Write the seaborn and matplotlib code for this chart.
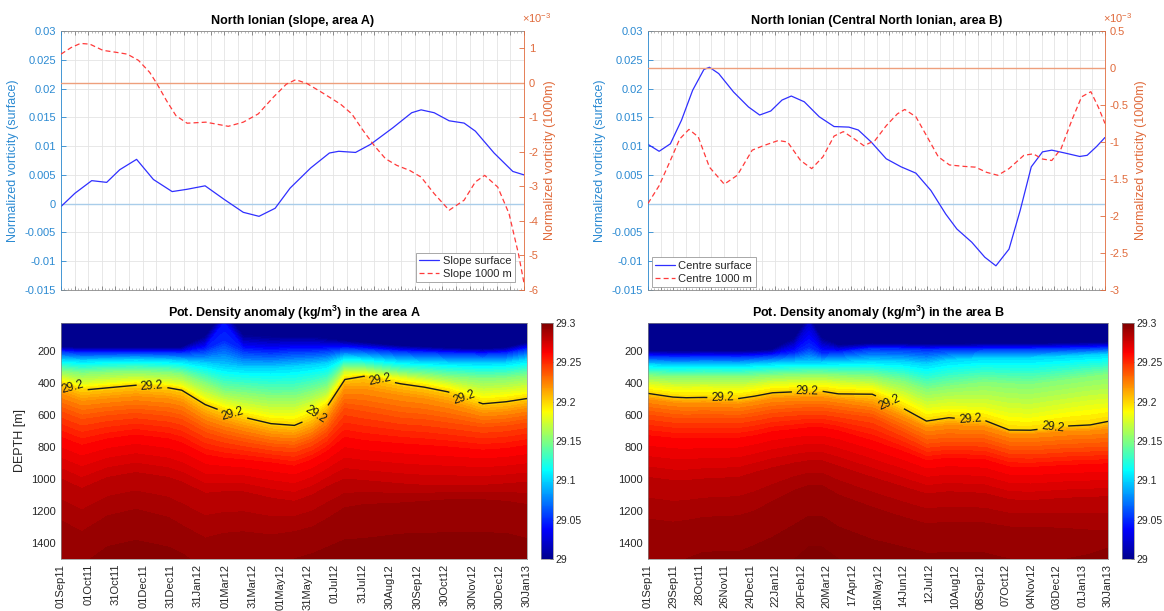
import numpy as np
import matplotlib
matplotlib.use("Agg")
import matplotlib.pyplot as plt
import seaborn as sns
from matplotlib.colors import LinearSegmentedColormap, Normalize
from matplotlib.cm import ScalarMappable
from matplotlib.ticker import FixedLocator, FuncFormatter, MultipleLocator
from matplotlib.lines import Line2D

# ---------------------------------------------------------------- data
TOTAL_DAYS = 517  # 01Sep11 .. 30Jan13
A_TICKLABELS = ["01Sep11", "01Oct11", "31Oct11", "01Dec11", "31Dec11", "31Jan12",
                "01Mar12", "31Mar12", "01May12", "31May12", "01Jul12", "31Jul12",
                "30Aug12", "30Sep12", "30Oct12", "30Nov12", "30Dec12", "30Jan13"]
B_TICKLABELS = ["01Sep11", "29Sep11", "28Oct11", "26Nov11", "24Dec11", "22Jan12",
                "20Feb12", "20Mar12", "17Apr12", "16May12", "14Jun12", "12Jul12",
                "10Aug12", "08Sep12", "07Oct12", "04Nov12", "03Dec12", "01Jan13", "30Jan13"]

# top-left: slope (area A)
A_SURF_DAY = [0, 15.5, 34.3, 51.0, 65.6, 84.4, 103.2, 124.1, 140.8, 160.9, 182.6, 203.5,
              221.1, 239.1, 255.8, 278.8, 299.7, 310.1, 328.9, 345.6, 370.7, 391.6, 402.1,
              416.7, 433.4, 450.1, 462.7, 483.6, 504.5, 517]
A_SURF = [-0.0005, 0.0018, 0.0040, 0.0037, 0.0059, 0.0077, 0.0042, 0.0021, 0.0025, 0.0031,
          0.0007, -0.0015, -0.0022, -0.0008, 0.0027, 0.0062, 0.0088, 0.0091, 0.0089, 0.0103,
          0.0132, 0.0158, 0.0163, 0.0158, 0.0144, 0.0140, 0.0126, 0.0088, 0.0056, 0.0050]
A_DEEP_DAY = [0, 11.3, 21.7, 32.2, 46.8, 63.5, 74.0, 86.5, 99.1, 107.4, 117.9, 128.3, 140.8,
              161.7, 186.8, 203.5, 220.3, 237.0, 251.6, 262.1, 274.6, 291.3, 312.2, 324.7,
              337.3, 349.8, 362.4, 374.9, 389.5, 402.1, 416.7, 433.4, 450.1, 462.7, 473.1,
              487.7, 500.3, 510.7, 517]
A_DEEP_E3 = [0.83, 1.02, 1.14, 1.12, 0.94, 0.875, 0.83, 0.65, 0.30, -0.04, -0.52, -0.95,
             -1.17, -1.14, -1.26, -1.14, -0.90, -0.42, -0.04, 0.09, -0.02, -0.28, -0.62,
             -0.90, -1.38, -1.82, -2.20, -2.39, -2.54, -2.73, -3.21, -3.69, -3.40, -2.87,
             -2.68, -3.02, -3.79, -4.94, -5.80]

# top-right: centre (area B)
B_SURF_DAY = [0, 12.6, 25.3, 37.9, 50.5, 63.2, 69.5, 80.0, 96.8, 113.7, 126.3, 138.9, 151.6,
              162.1, 176.8, 193.7, 210.5, 227.3, 237.9, 252.6, 269.5, 286.3, 303.1, 320.0,
              336.8, 349.4, 366.3, 381.0, 393.6, 408.4, 421.0, 433.6, 446.3, 456.8, 471.6,
              488.4, 496.8, 507.3, 517]
B_SURF = [0.0103, 0.0091, 0.0104, 0.0145, 0.0197, 0.0233, 0.0237, 0.0226, 0.0194, 0.0168,
          0.0154, 0.0161, 0.0180, 0.0187, 0.0177, 0.0151, 0.0134, 0.0133, 0.0128, 0.0107,
          0.0078, 0.0064, 0.0053, 0.0023, -0.0018, -0.0044, -0.0067, -0.0093, -0.0108,
          -0.0079, -0.0012, 0.0064, 0.0090, 0.0093, 0.0088, 0.0082, 0.0084, 0.0099, 0.0115]
B_DEEP_DAY = [0, 12.6, 25.3, 35.8, 46.3, 56.8, 69.5, 86.3, 101.0, 117.9, 130.5, 147.4, 157.9,
              172.6, 185.2, 197.9, 210.5, 221.0, 233.7, 244.2, 256.8, 269.5, 282.1, 290.5,
              303.1, 315.8, 328.4, 341.0, 357.9, 370.5, 383.1, 395.8, 408.4, 425.2, 435.8,
              446.3, 456.8, 467.3, 480.0, 490.5, 501.0, 509.5, 517]
B_DEEP_E3 = [-1.83, -1.59, -1.25, -0.96, -0.83, -0.93, -1.34, -1.57, -1.45, -1.11, -1.05,
             -0.98, -1.00, -1.25, -1.36, -1.20, -0.92, -0.86, -0.96, -1.05, -0.98, -0.78,
             -0.62, -0.56, -0.66, -0.93, -1.20, -1.31, -1.33, -1.34, -1.41, -1.45, -1.36,
             -1.18, -1.16, -1.23, -1.25, -1.09, -0.69, -0.39, -0.32, -0.53, -0.75]

# density sections: isopycnal depths (m) per profile date
ISO_LEVELS = [29.05, 29.10, 29.15, 29.18, 29.20, 29.22, 29.24, 29.26, 29.28, 29.29]
SURF_DEPTH, BOTTOM_DEPTH = 25, 1500

A_NODE_DAY = [0, 23, 52, 83, 119, 134, 160, 181, 202, 233, 259, 279, 295, 315, 336, 377,
              403, 429, 468, 494, 517]
A_SURF_RHO = [28.75, 28.75, 28.75, 28.75, 28.76, 28.78, 28.95, 29.04, 28.96, 28.955, 28.95,
              28.95, 28.93, 28.88, 28.85, 28.80, 28.78, 28.76, 28.75, 28.78, 28.85]
A_D05 = [205, 212, 212, 210, 212, 213, 195, 140, 200, 210, 200, 200, 195, 185, 190, 205, 210, 215, 220, 215, 190]
A_D10 = [255, 262, 258, 255, 260, 265, 280, 300, 310, 310, 300, 290, 280, 240, 245, 265, 270, 275, 280, 275, 255]
A_D15 = [325, 340, 332, 328, 335, 345, 400, 450, 460, 480, 480, 450, 420, 300, 305, 335, 345, 360, 375, 370, 355]
A_D18 = [375, 410, 398, 385, 400, 412, 490, 530, 560, 590, 590, 550, 500, 345, 340, 370, 390, 415, 470, 460, 445]
A_D20 = [405, 445, 430, 414, 430, 445, 535, 580, 613, 654, 665, 617, 550, 378, 358, 405, 426, 455, 530, 517, 497]
A_D22 = [470, 515, 500, 485, 500, 520, 610, 650, 680, 720, 730, 690, 620, 440, 440, 480, 500, 530, 590, 580, 560]
A_D24 = [580, 630, 605, 590, 610, 630, 710, 745, 770, 800, 810, 770, 710, 560, 580, 620, 630, 650, 680, 670, 650]
A_D26 = [740, 790, 750, 725, 750, 775, 850, 870, 880, 900, 920, 880, 830, 740, 760, 780, 790, 800, 820, 810, 790]
A_D28 = [1000, 1060, 990, 960, 990, 1020, 1090, 1080, 1080, 1120, 1140, 1100, 1050, 1000, 1010, 1030, 1040, 1040, 1040, 1030, 1020]
A_D29 = [1260, 1330, 1230, 1190, 1240, 1290, 1370, 1340, 1330, 1350, 1330, 1300, 1250, 1180, 1160, 1150, 1140, 1130, 1130, 1140, 1160]
A_BOT_RHO = [29.295, 29.294, 29.297, 29.298, 29.297, 29.296, 29.293, 29.294, 29.294, 29.294, 29.295,
             29.296, 29.297, 29.298, 29.298, 29.299, 29.299, 29.299, 29.299, 29.299, 29.298]

B_NODE_DAY = [0, 28, 43, 63, 102, 120, 140, 165, 181, 195, 214, 252, 287, 313, 338, 378,
              406, 430, 471, 497, 517]
B_SURF_RHO = [28.75, 28.75, 28.75, 28.75, 28.76, 28.76, 28.78, 28.95, 29.02, 28.95, 28.85,
              28.80, 28.80, 28.80, 28.80, 28.80, 28.80, 28.80, 28.82, 28.82, 28.82]
B_D05 = [235, 238, 238, 236, 238, 235, 230, 215, 180, 215, 210, 185, 188, 192, 190, 188, 188, 188, 185, 183, 180]
B_D10 = [285, 290, 290, 288, 290, 285, 280, 275, 275, 275, 272, 265, 270, 285, 260, 245, 245, 244, 235, 228, 223]
B_D15 = [355, 362, 362, 360, 362, 358, 352, 348, 345, 345, 350, 358, 390, 440, 420, 395, 405, 410, 380, 360, 347]
B_D18 = [415, 430, 432, 430, 435, 425, 410, 405, 402, 400, 412, 425, 490, 560, 545, 555, 590, 596, 560, 540, 530]
B_D20 = [465, 488, 492, 490, 497, 482, 461, 455, 452, 451, 468, 470, 559, 638, 617, 633, 694, 695, 669, 662, 640]
B_D22 = [505, 525, 530, 528, 535, 520, 500, 495, 492, 492, 505, 534, 615, 680, 665, 675, 720, 722, 705, 700, 690]
B_D24 = [600, 620, 625, 620, 625, 610, 590, 580, 575, 575, 590, 617, 710, 783, 770, 775, 820, 824, 810, 805, 800]
B_D26 = [730, 745, 750, 745, 745, 730, 705, 690, 680, 680, 700, 762, 830, 886, 870, 880, 925, 928, 915, 910, 905]
B_D28 = [990, 1010, 1010, 1000, 990, 960, 930, 900, 886, 886, 920, 990, 1050, 1094, 1080, 1090, 1130, 1135, 1120, 1115, 1110]
B_D29 = [1250, 1270, 1260, 1240, 1230, 1200, 1140, 1070, 1040, 1040, 1100, 1177, 1240, 1280, 1270, 1275, 1300, 1300, 1310, 1320, 1320]
B_BOT_RHO = [29.295, 29.295, 29.295, 29.296, 29.296, 29.297, 29.298, 29.300, 29.302, 29.302, 29.300,
             29.298, 29.297, 29.296, 29.296, 29.296, 29.295, 29.295, 29.295, 29.296, 29.298]

# ---------------------------------------------------------------- style
sns.set_theme(style="white")
plt.rcParams["font.family"] = ["Liberation Sans", "DejaVu Sans"]
plt.rcParams["mathtext.fontset"] = "custom"
plt.rcParams["mathtext.rm"] = "Liberation Sans"
plt.rcParams["mathtext.it"] = "Liberation Sans:italic"
plt.rcParams["mathtext.bf"] = "Liberation Sans:bold"
plt.rcParams["axes.linewidth"] = 0.6

BLUE_AX = "#2b8ad2"
ORANGE_AX = "#e06a3b"
LINE_BLUE = "#2f2fff"
LINE_RED = "#ff3a3a"
DARK = "#262626"
GRID = "#e4e4e4"

JET = LinearSegmentedColormap.from_list(
    "matlab_jet",
    [(0.0, (0, 0, 0.5625)), (0.125, (0, 0, 1)), (0.375, (0, 1, 1)),
     (0.625, (1, 1, 0)), (0.875, (1, 0, 0)), (1.0, (0.5, 0, 0))], N=256)
NORM = Normalize(29.0, 29.3)
FILL_LEVELS = np.linspace(29.0, 29.3, 61)
CBAR_TICKS = [29.0, 29.05, 29.1, 29.15, 29.2, 29.25, 29.3]

W, H = 1164, 611
fig = plt.figure(figsize=(W / 100, H / 100), dpi=100)


def frame(x0, y0, x1, y1):
    return [x0 / W, 1 - y1 / H, (x1 - x0) / W, (y1 - y0) / H]


ax_tl = fig.add_axes(frame(61, 31, 524, 290))
ax_tr = fig.add_axes(frame(648, 31, 1105, 290))
ax_bl = fig.add_axes(frame(61, 323, 527, 559))
ax_br = fig.add_axes(frame(648, 323, 1108, 559))
cax_l = fig.add_axes(frame(541, 323, 553, 559))
cax_r = fig.add_axes(frame(1122, 323, 1134, 559))

gfmt = FuncFormatter(lambda v, p: "%g" % round(v, 6))


def top_panel(ax, title, sd, sv, dd, dv, labels, rlim, rticks, leg_loc, leg_anchor, nlab):
    ax2 = ax.twinx()
    sns.lineplot(x=sd, y=sv, ax=ax, color=LINE_BLUE, lw=0.9, sort=False, estimator=None)
    sns.lineplot(x=dd, y=np.asarray(dv) * 1e-3, ax=ax2, color=LINE_RED, lw=0.9,
                 linestyle=(0, (4, 2.5)), sort=False, estimator=None)
    ax.axhline(0, color="#a9cdea", lw=1.0, zorder=1)
    ax2.axhline(0, color="#ee9f7c", lw=1.0, zorder=1)

    ax.set_xlim(0, TOTAL_DAYS)
    ax.set_ylim(-0.015, 0.03)
    ax.yaxis.set_major_locator(FixedLocator(np.arange(-0.015, 0.0301, 0.005)))
    ax.yaxis.set_major_formatter(gfmt)
    ax2.set_ylim(rlim[0] * 1e-3, rlim[1] * 1e-3)
    ax2.yaxis.set_major_locator(FixedLocator(np.asarray(rticks) * 1e-3))
    ax2.yaxis.set_major_formatter(FuncFormatter(lambda v, p: "%g" % round(v * 1e3, 6)))

    xt = np.linspace(0, TOTAL_DAYS, 2 * (nlab - 1) + 1)
    ax.xaxis.set_major_locator(FixedLocator(xt))
    ax.xaxis.set_minor_locator(MultipleLocator(TOTAL_DAYS / ((nlab - 1) * 8)))
    ax.tick_params(axis="x", which="major", direction="in", length=3, top=True, bottom=True,
                   labelbottom=False, color="#666666", width=0.5)
    ax.tick_params(axis="x", which="minor", direction="in", length=1.5, top=True, bottom=True,
                   color="#888888", width=0.4)
    ax.tick_params(axis="y", direction="in", length=3.5, colors=BLUE_AX, labelsize=8, width=0.6)
    ax2.tick_params(axis="y", direction="in", length=3.5, colors=ORANGE_AX, labelsize=8, width=0.6)
    ax.grid(True, which="major", axis="both", color=GRID, lw=0.6)
    ax.set_axisbelow(True)

    ax.spines["left"].set_color(BLUE_AX)
    ax.spines["right"].set_visible(False)
    for s in ("top", "bottom"):
        ax.spines[s].set_color("#8a8a8a")
    ax2.spines["right"].set_color(ORANGE_AX)
    for s in ("left", "top", "bottom"):
        ax2.spines[s].set_visible(False)

    ax.set_ylabel("Normalized vorticity (surface)", color=BLUE_AX, fontsize=9, labelpad=4)
    ax2.set_ylabel("Normalized vorticity (1000m)", color=ORANGE_AX, fontsize=9, labelpad=4)
    ax.set_xlabel("")
    ax.set_title(title, fontsize=9, fontweight="bold", color="black", pad=5)
    ax2.text(0.995, 1.025, r"$\times10^{-3}$", transform=ax2.transAxes, color=ORANGE_AX,
             fontsize=8, ha="left", va="bottom")

    handles = [Line2D([], [], color=LINE_BLUE, lw=0.9),
               Line2D([], [], color=LINE_RED, lw=0.9, linestyle=(0, (4, 2.5)))]
    leg = ax2.legend(handles, labels, loc=leg_loc, bbox_to_anchor=leg_anchor, fontsize=8,
                     frameon=True, fancybox=False, framealpha=1, edgecolor="#9a9a9a",
                     handlelength=1.8, handletextpad=0.3, labelspacing=0.25, borderpad=0.3,
                     borderaxespad=0)
    leg.get_frame().set_linewidth(0.6)


def density_panel(ax, cax, days, surf, depths, bot, title, ticklabels, label_pos, ylabel):
    days = np.asarray(days, float)
    n = len(days)
    Y = np.vstack([np.full(n, SURF_DEPTH, float)] + [np.asarray(d, float) for d in depths]
                  + [np.full(n, BOTTOM_DEPTH, float)])
    Z = np.vstack([np.asarray(surf, float)] + [np.full(n, lv) for lv in ISO_LEVELS]
                  + [np.asarray(bot, float)])
    X = np.tile(days, (Y.shape[0], 1))
    ax.contourf(X, Y, Z, levels=FILL_LEVELS, cmap=JET, norm=NORM, extend="both")
    cs = ax.contour(X, Y, Z, levels=[29.2], colors="k", linewidths=1.0)
    ax.clabel(cs, fmt="%.1f", fontsize=8.5, inline=True, inline_spacing=4, manual=label_pos)
    ax.set_xlim(0, TOTAL_DAYS)
    ax.set_ylim(BOTTOM_DEPTH, SURF_DEPTH)
    ax.set_yticks([200, 400, 600, 800, 1000, 1200, 1400])
    ax.set_xticks(np.linspace(0, TOTAL_DAYS, len(ticklabels)))
    ax.set_xticklabels(ticklabels, rotation=90, ha="center", va="top")
    ax.tick_params(axis="both", direction="in", length=3, labelsize=8, colors=DARK, width=0.5)
    for s in ax.spines.values():
        s.set_color("#8a8a8a")
        s.set_linewidth(0.5)
    ax.set_title(title, fontsize=9, fontweight="bold", color="black", pad=4)
    if ylabel:
        ax.set_ylabel(ylabel, fontsize=9, color=DARK, labelpad=4)

    sm = ScalarMappable(norm=NORM, cmap=JET)
    cb = fig.colorbar(sm, cax=cax, ticks=CBAR_TICKS, format=gfmt)
    cb.ax.tick_params(labelsize=7.5, colors=DARK, direction="in", length=2.5, width=0.5, pad=2)
    cb.outline.set_linewidth(0.5)
    cb.outline.set_edgecolor("#8a8a8a")


top_panel(ax_tl, "North Ionian (slope, area A)", A_SURF_DAY, A_SURF, A_DEEP_DAY, A_DEEP_E3,
          ["Slope surface", "Slope 1000 m"], (-6, 1.5), [-6, -5, -4, -3, -2, -1, 0, 1],
          "lower right", (0.98, 0.03), len(A_TICKLABELS))
top_panel(ax_tr, "North Ionian (Central North Ionian, area B)", B_SURF_DAY, B_SURF,
          B_DEEP_DAY, B_DEEP_E3, ["Centre surface", "Centre 1000 m"], (-3, 0.5),
          [-3, -2.5, -2, -1.5, -1, -0.5, 0, 0.5], "lower left", (0.008, 0.012),
          len(B_TICKLABELS))

density_panel(ax_bl, cax_l, A_NODE_DAY, A_SURF_RHO,
              [A_D05, A_D10, A_D15, A_D18, A_D20, A_D22, A_D24, A_D26, A_D28, A_D29],
              A_BOT_RHO, r"Pot. Density anomaly (kg/m$^{\mathbf{3}}$) in the area A",
              A_TICKLABELS,
              [(14, 410), (101, 420), (190, 595), (283, 600), (354, 372), (447, 490)],
              "DEPTH [m]")
density_panel(ax_br, cax_r, B_NODE_DAY, B_SURF_RHO,
              [B_D05, B_D10, B_D15, B_D18, B_D20, B_D22, B_D24, B_D26, B_D28, B_D29],
              B_BOT_RHO, r"Pot. Density anomaly (kg/m$^{\mathbf{3}}$) in the area B",
              B_TICKLABELS,
              [(84, 491), (179, 452), (272, 520), (362, 627), (455, 680)],
              None)

fig.savefig("out.png", dpi=100)
